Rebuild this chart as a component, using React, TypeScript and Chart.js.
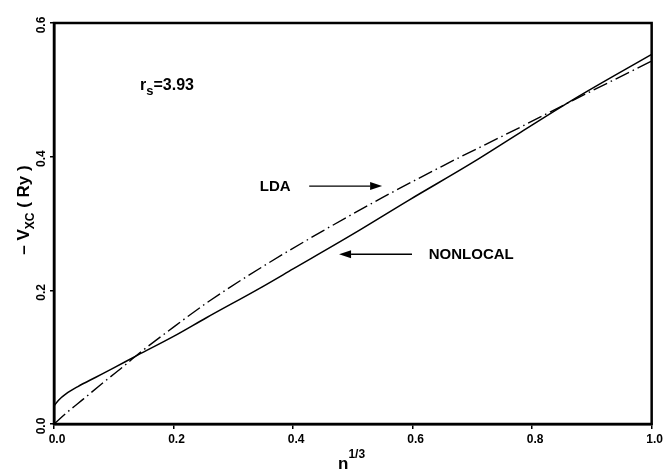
import React, { useEffect, useRef } from 'react';
import { Chart, registerables } from 'chart.js';

Chart.register(...registerables);

// ---- data ----
const ldaX = [0, 0.02, 0.05, 0.077, 0.116, 0.14, 0.2, 0.26, 0.35, 0.45, 0.55, 0.65, 0.78, 0.87, 1.0];
const ldaY = [0, 0.016, 0.038, 0.058, 0.086, 0.104, 0.145, 0.184, 0.236, 0.289, 0.339, 0.386, 0.444, 0.485, 0.543];

const nonlocalX = [0, 0.008, 0.02, 0.04, 0.07, 0.1, 0.14, 0.2, 0.255, 0.344, 0.4, 0.5, 0.594, 0.7, 0.78, 0.87, 1.0];
const nonlocalY = [0.027, 0.036, 0.045, 0.056, 0.070, 0.084, 0.103, 0.131, 0.159, 0.203, 0.232, 0.284, 0.335, 0.391, 0.436, 0.486, 0.553];

const xTickValues = [0, 0.2, 0.4, 0.6, 0.8, 1.0];
const yTickValues = [0, 0.2, 0.4, 0.6];

// annotation positions in data coordinates
const ldaLabel = { text: 'LDA', x: 0.396, y: 0.356 };
const ldaArrow = { from: 0.427, to: 0.549, y: 0.356 };
const nonlocalLabel = { text: 'NONLOCAL', x: 0.627, y: 0.254 };
const nonlocalArrow = { from: 0.599, to: 0.477, y: 0.254 };
const rsLabel = { x: 0.144, y: 0.5 };

const FONT = "'Liberation Sans', Arial, Helvetica, sans-serif";

type Run = { text: string; size: number; dy: number };

function drawRuns(ctx: CanvasRenderingContext2D, runs: Run[], x: number, y: number, rot: number, align: 'left' | 'center') {
  ctx.save();
  ctx.translate(x, y);
  ctx.rotate(rot);
  ctx.textBaseline = 'alphabetic';
  ctx.textAlign = 'left';
  let total = 0;
  const widths = runs.map((r) => {
    ctx.font = `bold ${r.size}px ${FONT}`;
    const w = ctx.measureText(r.text).width;
    total += w;
    return w;
  });
  let cx = align === 'center' ? -total / 2 : 0;
  runs.forEach((r, i) => {
    ctx.font = `bold ${r.size}px ${FONT}`;
    ctx.fillText(r.text, cx, r.dy);
    cx += widths[i];
  });
  ctx.restore();
}

function arrow(ctx: CanvasRenderingContext2D, x1: number, x2: number, y: number) {
  const dir = Math.sign(x2 - x1);
  const head = 12;
  ctx.save();
  ctx.strokeStyle = '#000';
  ctx.fillStyle = '#000';
  ctx.lineWidth = 1.3;
  ctx.beginPath();
  ctx.moveTo(x1, y);
  ctx.lineTo(x2 - dir * head, y);
  ctx.stroke();
  ctx.beginPath();
  ctx.moveTo(x2, y);
  ctx.lineTo(x2 - dir * head, y - 4);
  ctx.lineTo(x2 - dir * head, y + 4);
  ctx.closePath();
  ctx.fill();
  ctx.restore();
}

const decorPlugin = {
  id: 'decor',
  afterDraw(chart: any) {
    const ctx: CanvasRenderingContext2D = chart.ctx;
    const { left, right, top, bottom } = chart.chartArea;
    const xs = chart.scales.x;
    const ys = chart.scales.y;
    ctx.save();
    // frame
    ctx.strokeStyle = '#000';
    ctx.lineWidth = 2.5;
    ctx.strokeRect(left, top, right - left, bottom - top);
    ctx.fillStyle = '#000';

    // y tick labels (rotated)
    ctx.font = `bold 12px ${FONT}`;
    yTickValues.forEach((v) => {
      const py = ys.getPixelForValue(v);
      ctx.save();
      ctx.translate(45, py + 2);
      ctx.rotate(-Math.PI / 2);
      ctx.textAlign = 'center';
      ctx.textBaseline = 'alphabetic';
      ctx.fillText(v.toFixed(1), 0, 0);
      ctx.restore();
    });

    // y title
    drawRuns(
      ctx,
      [
        { text: '– V', size: 17, dy: 0 },
        { text: 'XC', size: 12, dy: 5 },
        { text: ' ( Ry )', size: 17, dy: 0 },
      ],
      29,
      210,
      -Math.PI / 2,
      'center'
    );

    // x title
    drawRuns(
      ctx,
      [
        { text: 'n', size: 17, dy: 0 },
        { text: '1/3', size: 12, dy: -11 },
      ],
      338,
      469,
      0,
      'left'
    );

    // r_s label
    drawRuns(
      ctx,
      [
        { text: 'r', size: 16, dy: 0 },
        { text: 's', size: 13, dy: 5 },
        { text: '=3.93', size: 16, dy: 0 },
      ],
      xs.getPixelForValue(rsLabel.x),
      ys.getPixelForValue(rsLabel.y),
      0,
      'left'
    );

    // LDA label + arrow
    ctx.font = `bold 15px ${FONT}`;
    ctx.textBaseline = 'middle';
    ctx.textAlign = 'right';
    ctx.fillText(ldaLabel.text, xs.getPixelForValue(ldaLabel.x), ys.getPixelForValue(ldaLabel.y) + 1);
    arrow(ctx, xs.getPixelForValue(ldaArrow.from), xs.getPixelForValue(ldaArrow.to), ys.getPixelForValue(ldaArrow.y));

    // NONLOCAL label + arrow
    ctx.textAlign = 'left';
    ctx.fillText(nonlocalLabel.text, xs.getPixelForValue(nonlocalLabel.x), ys.getPixelForValue(nonlocalLabel.y) + 1);
    arrow(ctx, xs.getPixelForValue(nonlocalArrow.from), xs.getPixelForValue(nonlocalArrow.to), ys.getPixelForValue(nonlocalArrow.y));
    ctx.restore();
  },
};

export default function App() {
  const ref = useRef<HTMLCanvasElement | null>(null);
  useEffect(() => {
    document.body.style.margin = '0';
    const canvas = ref.current;
    if (!canvas) return;
    const chart = new Chart(canvas, {
      type: 'line',
      data: {
        datasets: [
          {
            label: 'LDA',
            data: ldaX.map((x, i) => ({ x, y: ldaY[i] })),
            borderColor: '#000',
            borderWidth: 1.4,
            borderDash: [15, 4, 1.5, 4],
            pointRadius: 0,
            cubicInterpolationMode: 'monotone',
            fill: false,
          },
          {
            label: 'NONLOCAL',
            data: nonlocalX.map((x, i) => ({ x, y: nonlocalY[i] })),
            borderColor: '#000',
            borderWidth: 1.5,
            pointRadius: 0,
            cubicInterpolationMode: 'monotone',
            fill: false,
          },
        ],
      },
      options: {
        animation: false,
        responsive: false,
        devicePixelRatio: 1,
        layout: { padding: { left: 0, right: 9, top: 23, bottom: 0 } },
        plugins: { legend: { display: false }, tooltip: { enabled: false } },
        scales: {
          x: {
            type: 'linear',
            min: 0,
            max: 1,
            afterBuildTicks: (s: any) => {
              s.ticks = xTickValues.map((v) => ({ value: v }));
            },
            afterFit: (s: any) => {
              s.height = 46;
            },
            ticks: {
              color: '#000',
              font: { family: FONT, size: 12, weight: 'bold' },
              padding: 3,
              labelOffset: 3,
              maxRotation: 0,
              minRotation: 0,
              callback: (v: any) => Number(v).toFixed(1),
            },
            grid: { drawOnChartArea: false, drawTicks: true, tickLength: 5, color: '#000', lineWidth: 1.5 },
            border: { display: true, color: '#000', width: 2.5 },
          },
          y: {
            type: 'linear',
            min: 0,
            max: 0.6,
            afterBuildTicks: (s: any) => {
              s.ticks = yTickValues.map((v) => ({ value: v }));
            },
            afterFit: (s: any) => {
              s.width = 54;
            },
            ticks: { display: false },
            grid: { drawOnChartArea: false, drawTicks: true, tickLength: 4, color: '#000', lineWidth: 1.5 },
            border: { display: true, color: '#000', width: 2.5 },
          },
        },
      },
      plugins: [decorPlugin],
    } as any);
    return () => chart.destroy();
  }, []);
  return <canvas ref={ref} width={663} height={470} style={{ display: 'block', width: 663, height: 470 }} />;
}
